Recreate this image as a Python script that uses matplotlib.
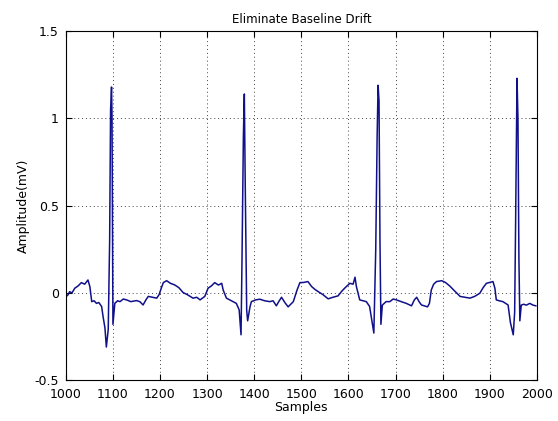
import matplotlib
matplotlib.use("Agg")
import matplotlib.pyplot as plt
from matplotlib.ticker import FuncFormatter

# ── 数据: ECG 折线顶点 ──
samples = [
    1001, 1005, 1008, 1013, 1019, 1026, 1033, 1040, 1047, 1051, 1055, 1060, 1065, 1070,
    1076, 1079, 1083, 1086, 1090, 1093, 1095, 1097, 1098, 1100, 1102, 1104, 1110, 1115,
    1122, 1129, 1138, 1150, 1157, 1164, 1170, 1175, 1184, 1193, 1198, 1203, 1207, 1214,
    1222, 1231, 1240, 1249, 1258, 1270, 1278, 1285, 1295, 1302, 1309, 1316, 1324, 1331,
    1334, 1341, 1348, 1355, 1362, 1368, 1372, 1374, 1377, 1379, 1381, 1384, 1386, 1391,
    1394, 1403, 1412, 1422, 1433, 1440, 1447, 1452, 1458, 1465, 1472, 1483, 1491, 1497,
    1505, 1514, 1522, 1529, 1536, 1546, 1557, 1567, 1578, 1586, 1592, 1603, 1610, 1614,
    1617, 1624, 1631, 1638, 1645, 1649, 1654, 1658, 1661, 1663, 1665, 1667, 1669, 1672,
    1680, 1688, 1695, 1702, 1712, 1723, 1734, 1740, 1745, 1750, 1755, 1768, 1772, 1776,
    1781, 1787, 1798, 1806, 1815, 1826, 1837, 1848, 1858, 1868, 1879, 1886, 1893, 1900,
    1907, 1911, 1914, 1920, 1928, 1934, 1939, 1944, 1950, 1953, 1955, 1958, 1960, 1962,
    1964, 1967, 1972, 1978, 1985, 1992, 1998,
]
amplitude = [
    -0.02, -0.01, 0.007, 0.00, 0.027, 0.04, 0.059, 0.05, 0.074, 0.036, -0.05, -0.045, -0.06, -0.055,
    -0.078, -0.135, -0.2, -0.31, -0.21, 0.30, 1.05, 1.18, 1.02, -0.18, -0.12, -0.06, -0.045, -0.05,
    -0.035, -0.04, -0.05, -0.044, -0.05, -0.069, -0.04, -0.02, -0.025, -0.03, -0.01, 0.03, 0.059, 0.07,
    0.055, 0.046, 0.03, 0.002, -0.01, -0.03, -0.025, -0.04, -0.02, 0.027, 0.04, 0.059, 0.045, 0.055,
    0.017, -0.03, -0.04, -0.05, -0.06, -0.097, -0.24, 0.18, 0.90, 1.14, 0.60, -0.10, -0.16, -0.08,
    -0.05, -0.04, -0.036, -0.045, -0.05, -0.045, -0.074, -0.05, -0.025, -0.055, -0.08, -0.05, 0.017, 0.059,
    0.06, 0.065, 0.036, 0.02, 0.007, -0.01, -0.034, -0.025, -0.017, 0.01, 0.027, 0.055, 0.05, 0.09,
    0.036, -0.04, -0.045, -0.05, -0.078, -0.145, -0.23, 0.246, 0.90, 1.19, 1.10, 0.30, -0.18, -0.07,
    -0.05, -0.05, -0.035, -0.04, -0.05, -0.06, -0.074, -0.04, -0.025, -0.05, -0.069, -0.08, -0.06, 0.017,
    0.05, 0.065, 0.07, 0.06, 0.04, 0.01, -0.02, -0.025, -0.03, -0.02, -0.002, 0.03, 0.055, 0.06,
    0.065, 0.027, -0.04, -0.045, -0.05, -0.06, -0.069, -0.17, -0.24, -0.11, 0.40, 1.23, 1.00, 0.20,
    -0.16, -0.07, -0.065, -0.07, -0.06, -0.07, -0.074,
]

x_ticks = list(range(1000, 2001, 100))
y_ticks = [-0.5, 0, 0.5, 1, 1.5]

LINE_COLOR = "#10108a"

fig = plt.figure(figsize=(5.58, 4.21), dpi=100)
ax = fig.add_axes([0.118, 0.097, 0.844, 0.829])

ax.plot(samples, amplitude, color=LINE_COLOR, linewidth=1.1)

ax.set_xlim(1000, 2000)
ax.set_ylim(-0.5, 1.5)
ax.set_xticks(x_ticks)
ax.set_yticks(y_ticks)
ax.yaxis.set_major_formatter(FuncFormatter(lambda v, p: f"{v:g}"))
ax.tick_params(direction="in", top=True, right=True, labelsize=9, length=4, width=0.8)
ax.tick_params(axis="x", pad=6)
ax.tick_params(axis="y", pad=5)
ax.grid(True, linestyle=(0, (1, 3)), color="#444444", linewidth=0.7)
for s in ax.spines.values():
    s.set_linewidth(0.8)

ax.set_title("Eliminate Baseline Drift", fontsize=8.5, pad=6)
ax.set_xlabel("Samples", fontsize=9, labelpad=0)
ax.set_ylabel("Amplitude(mV)", fontsize=9, labelpad=3)

fig.savefig("out.png", dpi=100)
